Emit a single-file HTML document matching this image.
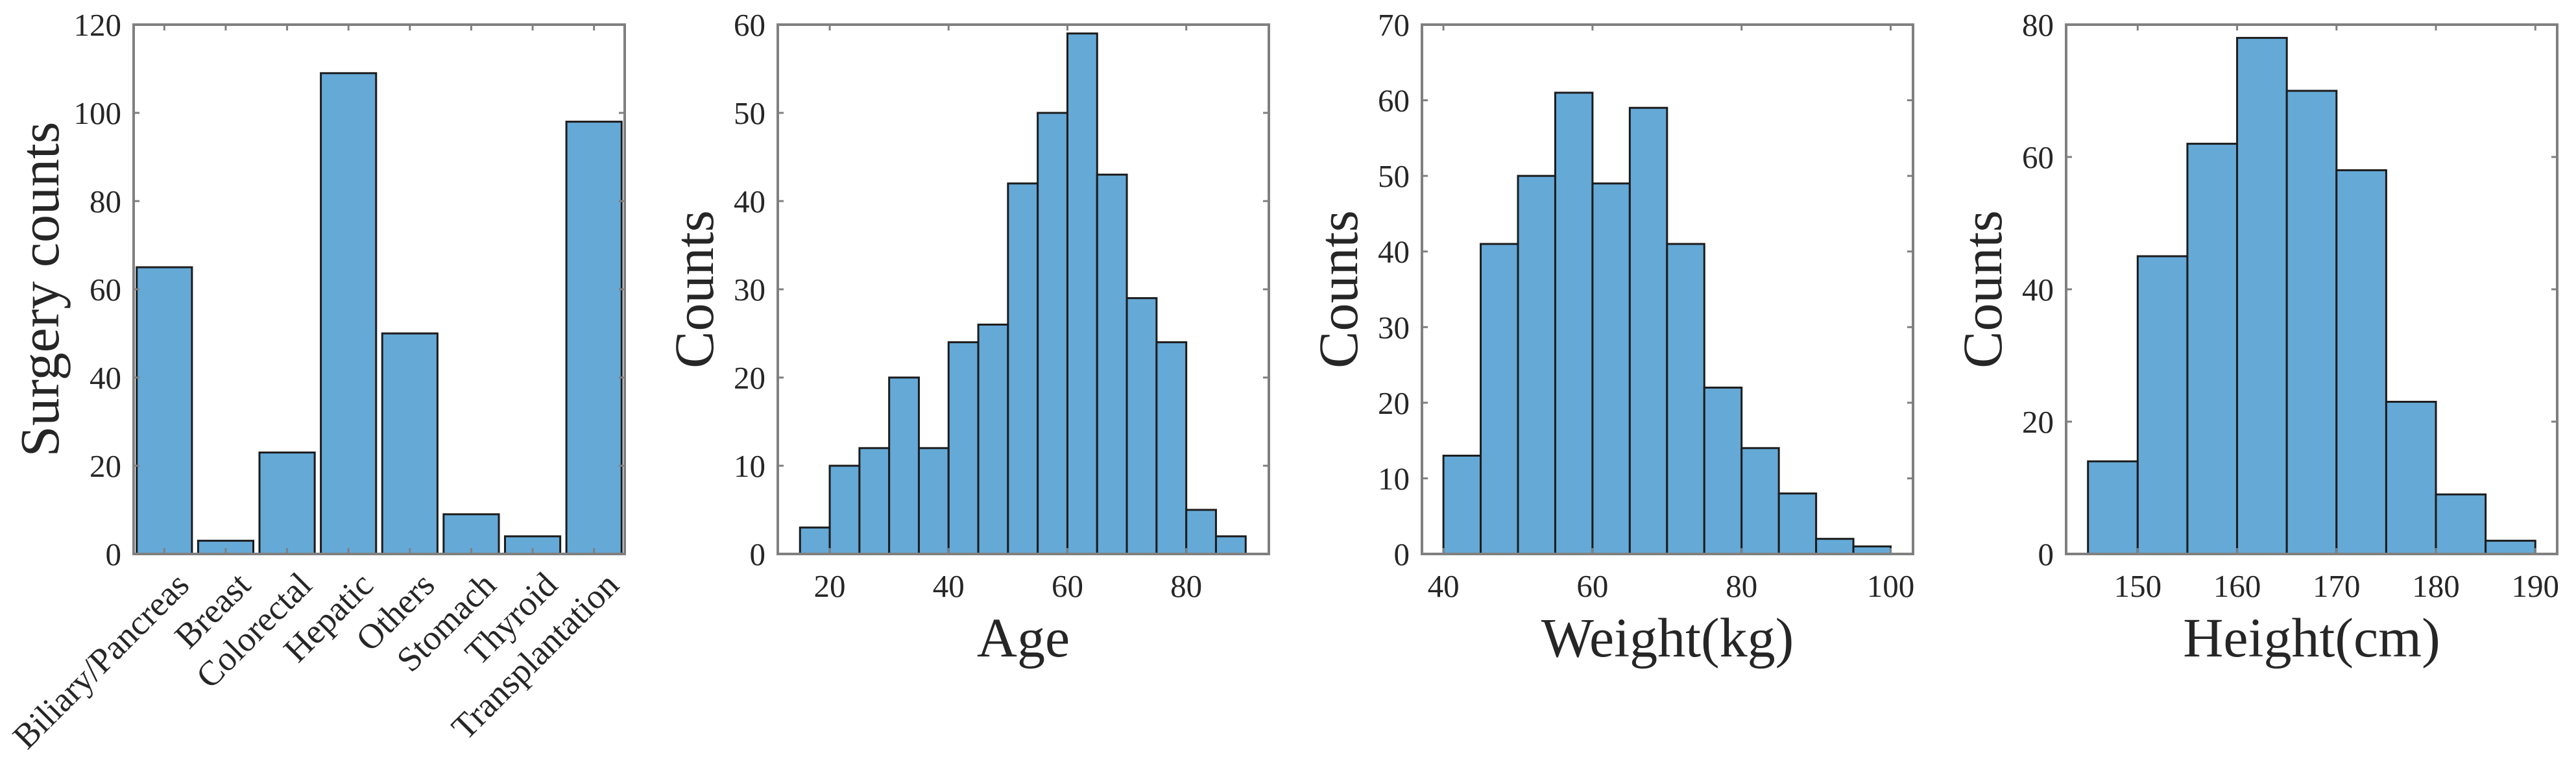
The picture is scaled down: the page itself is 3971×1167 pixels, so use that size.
<!DOCTYPE html>
<html><head><meta charset="utf-8"><style>
html,body{margin:0;padding:0;background:#fff;}
svg{display:block;font-family:"Liberation Serif","Times New Roman",serif;}
</style></head><body>
<svg id="fig" width="3971" height="1167" viewBox="0 0 3971 1167" xmlns="http://www.w3.org/2000/svg"></svg>
<script>
// Panel 1: surgery categories
const surgeryCategories = ["Biliary/Pancreas","Breast","Colorectal","Hepatic","Others","Stomach","Thyroid","Transplantation"];
const surgeryCounts = [65,3,23,109,50,9,4,98];
const surgeryYTicks = [0,20,40,60,80,100,120];
// Panel 2: age
const ageBinEdges = [15,20,25,30,35,40,45,50,55,60,65,70,75,80,85,90];
const ageCounts = [3,10,12,20,12,24,26,42,50,59,43,29,24,5,2];
const ageXTicks = [20,40,60,80];
const ageYTicks = [0,10,20,30,40,50,60];
// Panel 3: weight
const weightBinEdges = [40,45,50,55,60,65,70,75,80,85,90,95,100];
const weightCounts = [13,41,50,61,49,59,41,22,14,8,2,1];
const weightXTicks = [40,60,80,100];
const weightYTicks = [0,10,20,30,40,50,60,70];
// Panel 4: height
const heightBinEdges = [145,150,155,160,165,170,175,180,185,190];
const heightCounts = [14,45,62,78,70,58,23,9,2];
const heightXTicks = [150,160,170,180,190];
const heightYTicks = [0,20,40,60,80];

const NS = "http://www.w3.org/2000/svg";
const svg = document.getElementById('fig');
const TOP = 38, BOT = 854, W = 757;
const FILL = "#65a9d7", EDGE = "#1c1c1c", AX = "#808080", TXT = "#262626";

function mk(tag, attrs, parent){
  const e = document.createElementNS(NS, tag);
  for (const k in attrs) e.setAttribute(k, attrs[k]);
  parent.appendChild(e);
  return e;
}

function panel(name, left, xmin, xmax, ymax, yticks, xticks, ylabel, xlabel, ylabOff){
  const g = mk('g', {}, svg);
  
  
  const sx = v => left + (v - xmin) / (xmax - xmin) * W;
  const sy = v => BOT - v / ymax * (BOT - TOP);
  return {g, sx, sy, left, yticks, xticks, ylabel, xlabel, ylabOff, ymax};
}

function drawBar(P, x0, x1, v, nm){
  const r = mk('rect', {x: P.sx(x0), y: P.sy(v), width: P.sx(x1) - P.sx(x0), height: BOT - P.sy(v),
    fill: FILL, stroke: EDGE, 'stroke-width': 3}, P.g);
  
  
}

function drawAxes(P){
  const L = P.left, R = P.left + W;
  const ga = mk('g', {}, P.g);
  
  
  mk('rect', {x: L, y: TOP, width: W, height: BOT - TOP, fill: 'none', stroke: AX, 'stroke-width': 4}, ga);
  const gy = mk('g', {}, P.g);
  
  
  P.yticks.forEach(t => {
    const y = P.sy(t);
    mk('line', {x1: L, x2: L + 9, y1: y, y2: y, stroke: AX, 'stroke-width': 3}, gy);
    mk('line', {x1: R, x2: R - 9, y1: y, y2: y, stroke: AX, 'stroke-width': 3}, gy);
    const tx = mk('text', {x: L - 19, y: y + 17, 'text-anchor': 'end', 'font-size': 49, fill: TXT}, gy);
    tx.textContent = t;
    
    
  });
  const gx = mk('g', {}, P.g);
  
  
  P.xticks.forEach(t => {
    const x = P.sx(t);
    mk('line', {x1: x, x2: x, y1: BOT, y2: BOT - 9, stroke: AX, 'stroke-width': 3}, gx);
    mk('line', {x1: x, x2: x, y1: TOP, y2: TOP + 9, stroke: AX, 'stroke-width': 3}, gx);
    if (P.xlabel !== null) {
      const tx = mk('text', {x: x, y: 920, 'text-anchor': 'middle', 'font-size': 49, fill: TXT}, gx);
      tx.textContent = t;
      
      
    }
  });
  const cy = (TOP + BOT) / 2, lx = L - P.ylabOff;
  const yl = mk('text', {x: lx, y: cy, 'text-anchor': 'middle', 'font-size': 86, fill: TXT,
    transform: `rotate(-90 ${lx} ${cy})`, 'dominant-baseline': 'central'}, P.g);
  yl.textContent = P.ylabel;
  
  
  if (P.xlabel) {
    const xl = mk('text', {x: L + W / 2, y: 1012, 'text-anchor': 'middle', 'font-size': 86, fill: TXT}, P.g);
    xl.textContent = P.xlabel;
    
    
  }
}

// Panel 1
const P1 = panel('surgery-bar-chart', 206, 0.5, surgeryCategories.length + 0.5, 120, surgeryYTicks,
  surgeryCategories.map((c, i) => i + 1), 'Surgery counts', null, 145);
surgeryCounts.forEach((v, i) => drawBar(P1, i + 1 - 0.45, i + 1 + 0.45, v, 'bar-' + surgeryCategories[i].toLowerCase().replace('/', '-')));
drawAxes(P1);
surgeryCategories.forEach((c, i) => {
  const x = P1.sx(i + 1) + 41, y = 905;
  const t = mk('text', {x: x, y: y, 'text-anchor': 'end', 'font-size': 54, fill: TXT,
    transform: `rotate(-45 ${x} ${y})`}, P1.g);
  t.textContent = c;
  
  
});

// Panel 2
const P2 = panel('age-histogram', 1199, 11.26, 93.9, 60, ageYTicks, ageXTicks, 'Counts', 'Age', 129);
ageCounts.forEach((v, i) => drawBar(P2, ageBinEdges[i], ageBinEdges[i + 1], v, 'age-bin'));
drawAxes(P2);

// Panel 3
const P3 = panel('weight-histogram', 2192, 37.12, 103.0, 70, weightYTicks, weightXTicks, 'Counts', 'Weight(kg)', 129);
weightCounts.forEach((v, i) => drawBar(P3, weightBinEdges[i], weightBinEdges[i + 1], v, 'weight-bin'));
drawAxes(P3);

// Panel 4
const P4 = panel('height-histogram', 3185, 142.8, 192.2, 80, heightYTicks, heightXTicks, 'Counts', 'Height(cm)', 129);
heightCounts.forEach((v, i) => drawBar(P4, heightBinEdges[i], heightBinEdges[i + 1], v, 'height-bin'));
drawAxes(P4);
</script>
</body></html>
